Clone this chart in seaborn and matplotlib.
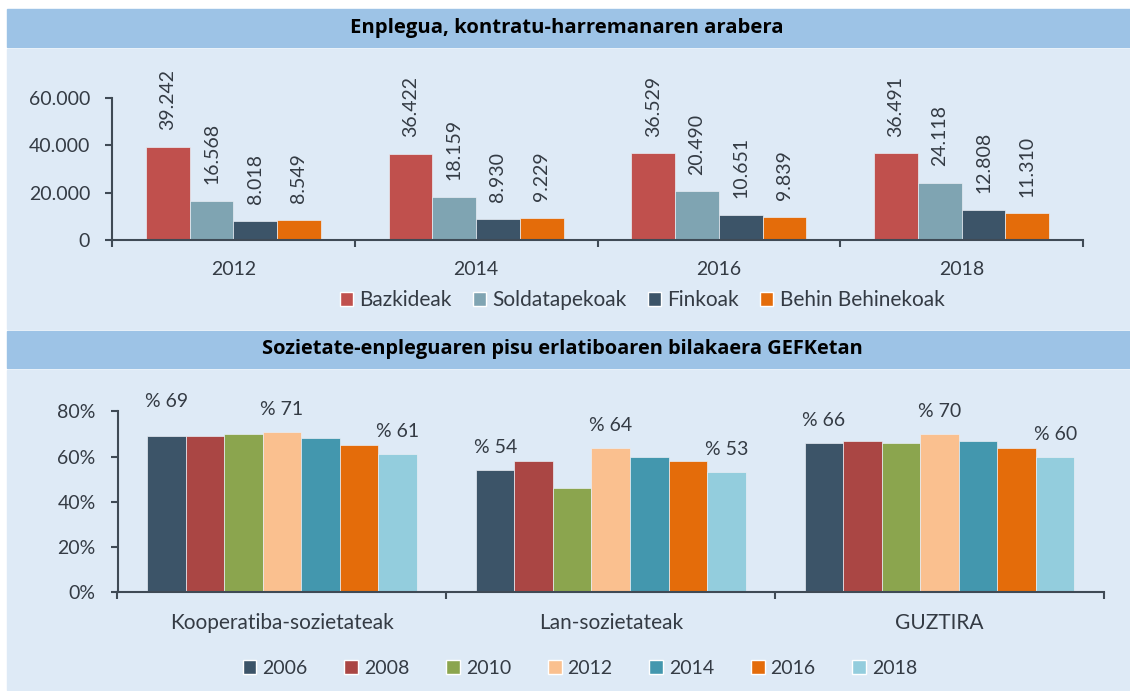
import numpy as np
import pandas as pd
import seaborn as sns
import matplotlib.pyplot as plt
from matplotlib.patches import Rectangle, Patch
from matplotlib.ticker import FuncFormatter, FixedLocator

# top chart data
years = ["2012", "2014", "2016", "2018"]
series_top = ["Bazkideak", "Soldatapekoak", "Finkoak", "Behin Behinekoak"]
bazkideak = [39242, 36422, 36529, 36491]
soldatapekoak = [16568, 18159, 20490, 24118]
finkoak = [8018, 8930, 10651, 12808]
behin_behinekoak = [8549, 9229, 9839, 11310]

# bottom chart data (%)
categories = ["Kooperatiba-sozietateak", "Lan-sozietateak", "GUZTIRA"]
years_b = ["2006", "2008", "2010", "2012", "2014", "2016", "2018"]
pct_2006 = [69, 54, 66]
pct_2008 = [69, 58, 67]
pct_2010 = [70, 46, 66]
pct_2012 = [71, 64, 70]
pct_2014 = [68, 60, 67]
pct_2016 = [65, 58, 64]
pct_2018 = [61, 53, 60]
labelled_years = ["2006", "2012", "2018"]

top_colors = ["#C0504D", "#7FA4B2", "#3C5468", "#E46C0A"]
bot_colors = ["#3C5468", "#AA4644", "#8BA54E", "#FAC08F", "#4397AE", "#E46C0A", "#93CDDD"]

sns.set_style("ticks")
plt.rcParams["font.family"] = ["Lato", "DejaVu Sans"]
txt = "#343B44"
axc = "#3F4A55"

W, H = 1130, 691
fig = plt.figure(figsize=(W / 100, H / 100), dpi=100)
fig.patch.set_facecolor("white")

def px_rect(x0, y0, x1, y1, color):
    fig.patches.append(Rectangle((x0 / W, 1 - y1 / H), (x1 - x0) / W, (y1 - y0) / H,
                                 transform=fig.transFigure, color=color, zorder=-5))

band = "#9DC3E6"
panel = "#DEEAF6"
px_rect(7, 9, 1130, 47, band)
px_rect(7, 49, 1130, 329, panel)
px_rect(7, 331, 1130, 368, band)
px_rect(7, 370, 1130, 690, panel)
fig.text(567 / W, 1 - 28 / H, "Enplegua, kontratu-harremanaren arabera", ha="center", va="center",
         fontsize=14.6, fontweight="bold", color="black", family=["Open Sans", "DejaVu Sans"])
fig.text(562 / W, 1 - 349 / H, "Sozietate-enpleguaren pisu erlatiboaren bilakaera GEFKetan", ha="center",
         va="center", fontsize=14.4, fontweight="bold", color="black", family=["Open Sans", "DejaVu Sans"])

def style_axis(ax, n, xsize):
    ax.set_facecolor("none")
    ax.set_xlim(-0.5, n - 0.5)
    sns.despine(ax=ax)
    for s in ["left", "bottom"]:
        ax.spines[s].set_color(axc)
        ax.spines[s].set_linewidth(1.5)
    ax.xaxis.set_minor_locator(FixedLocator(np.arange(-0.5, n, 1.0)))
    ax.tick_params(axis="x", which="major", length=0, pad=15, labelsize=xsize, labelcolor=txt)
    ax.tick_params(axis="x", which="minor", length=5, width=1.5, color=axc, direction="out")
    ax.tick_params(axis="y", length=4.7, width=1.5, color=axc, pad=11, labelsize=14, labelcolor=txt)
    ax.set_xlabel("")
    ax.set_ylabel("")

# ---- top chart
df_top = pd.DataFrame({
    "year": years * 4,
    "series": np.repeat(series_top, len(years)),
    "value": bazkideak + soldatapekoak + finkoak + behin_behinekoak,
})
ax1 = fig.add_axes([112 / W, 1 - 240 / H, (1083 - 112) / W, 142.3 / H])
sns.barplot(data=df_top, x="year", y="value", hue="series", palette=top_colors, width=0.72,
            saturation=1, legend=False, ax=ax1, edgecolor="#E8EEF5", linewidth=0.5)
style_axis(ax1, len(years), 14)
ax1.set_ylim(0, 60000)
ax1.set_yticks([0, 20000, 40000, 60000])
ax1.yaxis.set_major_formatter(FuncFormatter(lambda v, p: f"{int(v):,}".replace(",", ".")))
for cont in ax1.containers:
    ax1.bar_label(cont, labels=[f"{int(b.get_height()):,}".replace(",", ".") for b in cont],
                  rotation=90, padding=12, fontsize=14, color=txt, clip_on=False)
h1 = [Patch(facecolor=c) for c in top_colors]
ax1.legend(h1, series_top, ncol=4, loc="center", bbox_to_anchor=(642 / W, 1 - 300 / H),
           bbox_transform=fig.transFigure, frameon=False, fontsize=15, handlelength=0.65,
           handleheight=0.65, handletextpad=0.3, columnspacing=1.0, labelcolor=txt)

# ---- bottom chart
df_bot = pd.DataFrame({
    "cat": categories * len(years_b),
    "year": np.repeat(years_b, len(categories)),
    "value": pct_2006 + pct_2008 + pct_2010 + pct_2012 + pct_2014 + pct_2016 + pct_2018,
})
ax2 = fig.add_axes([117.5 / W, 1 - 592 / H, (1104 - 117.5) / W, 180.6 / H])
sns.barplot(data=df_bot, x="cat", y="value", hue="year", palette=bot_colors, width=0.82,
            saturation=1, legend=False, ax=ax2, edgecolor="#E8EEF5", linewidth=0.5)
style_axis(ax2, len(categories), 15)
ax2.set_ylim(0, 80)
ax2.set_yticks([0, 20, 40, 60, 80])
ax2.yaxis.set_major_formatter(FuncFormatter(lambda v, p: f"{int(v)}%"))
for yr, cont in zip(years_b, ax2.containers):
    if yr in labelled_years:
        anns = ax2.bar_label(cont, labels=[f"% {int(b.get_height())}" for b in cont],
                             padding=10, fontsize=14, color=txt, clip_on=False)
        if yr == "2006":
            anns[0].xyann = (0, 19)
h2 = [Patch(facecolor=c) for c in bot_colors]
ax2.legend(h2, years_b, ncol=7, loc="center", bbox_to_anchor=(580 / W, 1 - 668 / H),
           bbox_transform=fig.transFigure, frameon=False, fontsize=14, handlelength=0.7,
           handleheight=0.7, handletextpad=0.3, columnspacing=1.9, labelcolor=txt)

fig.savefig("out.png", dpi=100)
